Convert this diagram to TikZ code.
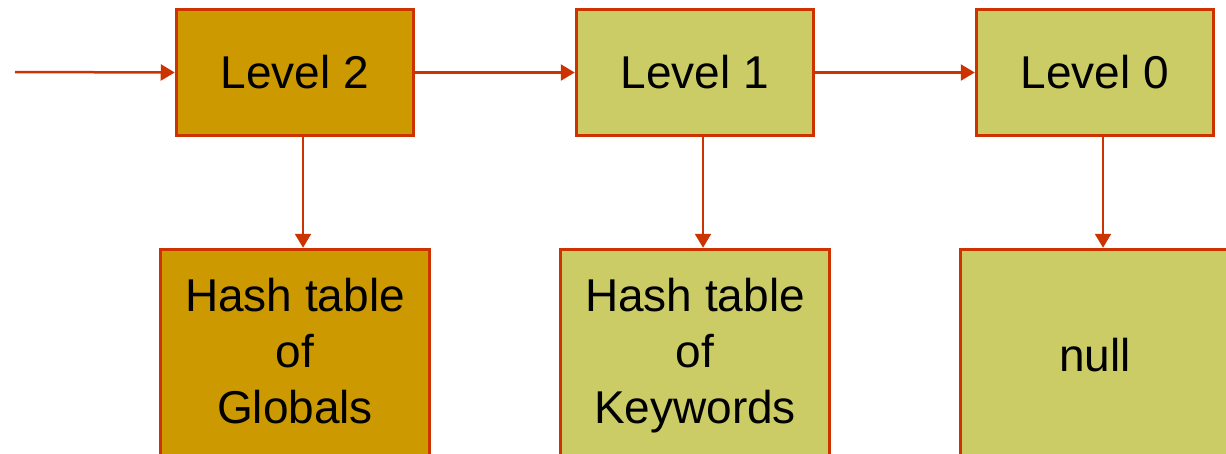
\documentclass[tikz,border=0pt]{standalone}
\usepackage{fontspec}
\setmainfont{Liberation Sans}
\usetikzlibrary{arrows.meta}
\definecolor{levelgold}{HTML}{CC9900}
\definecolor{levelgreen}{HTML}{CCCC66}
\definecolor{linkred}{HTML}{CC3300}

\begin{document}
\begin{tikzpicture}[x=1pt,y=-1pt,
    levelbox/.style={draw=linkred,line width=3.5pt,inner sep=0pt,
      minimum width=237pt,minimum height=126pt,
      font=\fontsize{46}{56}\selectfont,align=center},
    hashbox/.style={levelbox,minimum width=269pt,minimum height=212pt},
    link/.style={linkred,line width=2.5pt,-{Triangle[length=14pt,width=16pt]}}]
  \useasboundingbox (0,0) rectangle (1226,453);
  % scope chain
  \node[levelbox,fill=levelgold] (l2) at (295,72.5) {Level 2};
  \node[levelbox,fill=levelgreen] (l1) at (695,72.5) {Level 1};
  \node[levelbox,fill=levelgreen] (l0) at (1095,72.5) {Level 0};
  % tables (cut off at the bottom)
  \begin{scope}
    \clip (0,0) rectangle (1226,453);
    \node[hashbox,fill=levelgold] (h2) at (295,355.5) {Hash table\\of\\Globals\vphantom{y}};
    \node[hashbox,fill=levelgreen] (h1) at (695,355.5) {Hash table\\of\\Keywords};
    \node[hashbox,fill=levelgreen] (h0) at (1095,355.5) {null};
  \end{scope}
  \coordinate (in) at (15,72);
  \draw[link] (in) -- (l2.west);
  \draw[link] (l2.east) -- (l1.west);
  \draw[link] (l1.east) -- (l0.west);
  \draw[link] ([xshift=8pt]l2.south) -- ([xshift=8pt]l2.south |- h2.north);
  \draw[link] ([xshift=8pt]l1.south) -- ([xshift=8pt]l1.south |- h1.north);
  \draw[link] ([xshift=8pt]l0.south) -- ([xshift=8pt]l0.south |- h0.north);
\end{tikzpicture}
\end{document}
